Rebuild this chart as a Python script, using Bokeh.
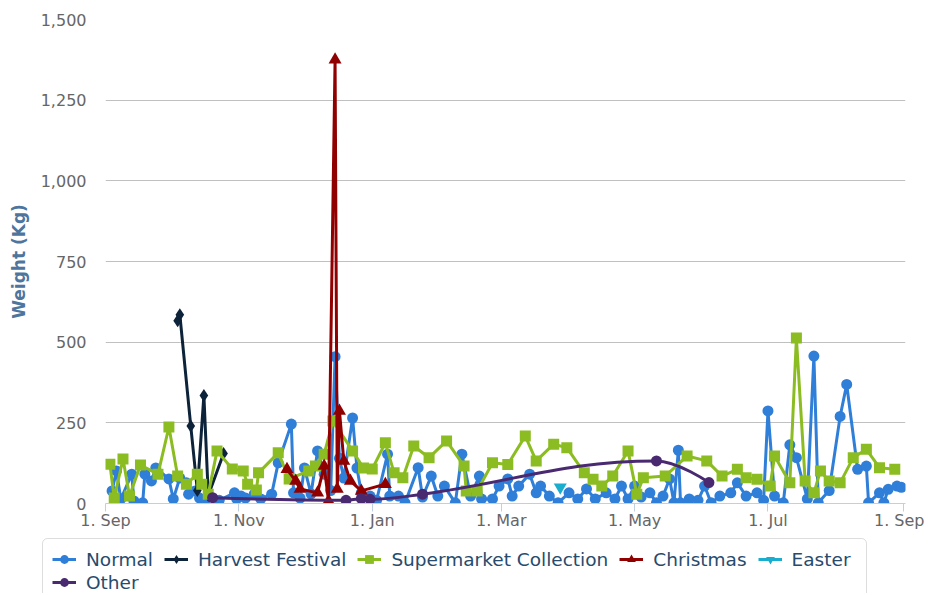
import pandas as pd
from bokeh.plotting import figure
from bokeh.layouts import column
from bokeh.models import Range1d, FixedTicker, NumeralTickFormatter, Legend, LegendItem, BoxAnnotation
from bokeh.embed import file_html
from bokeh.resources import INLINE

FONT = "DejaVu Sans"

# ---------------- data ----------------
normal_dates = ["2014-09-04","2014-09-06","2014-09-08","2014-09-13","2014-09-14","2014-09-18","2014-09-19","2014-09-22","2014-09-24","2014-09-30",
                "2014-10-02","2014-10-05","2014-10-08","2014-10-09","2014-10-12","2014-10-14","2014-10-17","2014-10-23","2014-10-30","2014-10-31",
                "2014-11-02","2014-11-04","2014-11-08","2014-11-11","2014-11-16","2014-11-19","2014-11-25","2014-11-26","2014-11-29",
                "2014-12-01","2014-12-04","2014-12-07","2014-12-10","2014-12-13","2014-12-15","2014-12-17","2014-12-19","2014-12-23","2014-12-25","2014-12-27","2014-12-31",
                "2015-01-03","2015-01-08","2015-01-09","2015-01-13","2015-01-16","2015-01-22","2015-01-24","2015-01-28","2015-01-31",
                "2015-02-03","2015-02-08","2015-02-11","2015-02-15","2015-02-19","2015-02-20","2015-02-25","2015-02-28",
                "2015-03-04","2015-03-06","2015-03-09","2015-03-14","2015-03-17","2015-03-19","2015-03-23","2015-03-27",
                "2015-04-01","2015-04-05","2015-04-09","2015-04-13","2015-04-18","2015-04-22","2015-04-25","2015-04-28",
                "2015-05-01","2015-05-04","2015-05-08","2015-05-11","2015-05-14","2015-05-17","2015-05-19","2015-05-21","2015-05-22","2015-05-26","2015-05-30",
                "2015-06-02","2015-06-05","2015-06-09","2015-06-14","2015-06-17","2015-06-21","2015-06-26","2015-06-29",
                "2015-07-01","2015-07-04","2015-07-08","2015-07-11","2015-07-14","2015-07-19","2015-07-22","2015-07-24","2015-07-29",
                "2015-08-03","2015-08-06","2015-08-11","2015-08-15","2015-08-16","2015-08-21","2015-08-23","2015-08-25","2015-08-29","2015-08-31"]
normal_values = [39,101,14,91,8,2,91,70,110,76,
                 14,79,64,29,39,17,14,10,33,14,
                 23,17,29,14,29,126,246,33,17,
                 110,30,163,91,40,455,140,79,265,110,33,23,
                 10,153,23,23,2,111,20,85,23,
                 54,2,153,23,85,14,14,54,
                 76,23,54,91,33,54,23,2,
                 33,14,45,14,33,14,54,14,
                 54,20,33,2,23,76,2,165,2,14,10,
                 54,2,23,33,64,23,33,10,
                 287,23,2,182,142,14,457,2,40,
                 270,369,106,116,2,33,2,44,54,50]

harvest_dates = ["2014-10-04","2014-10-05","2014-10-10","2014-10-13","2014-10-16","2014-10-18","2014-10-25"]
harvest_values = [566,585,240,40,335,25,155]

supermarket_dates = ["2014-09-03","2014-09-05","2014-09-09","2014-09-12","2014-09-17","2014-09-25","2014-09-30",
                     "2014-10-04","2014-10-08","2014-10-13","2014-10-15","2014-10-18","2014-10-22","2014-10-29",
                     "2014-11-03","2014-11-05","2014-11-09","2014-11-10","2014-11-19","2014-11-24",
                     "2014-12-03","2014-12-06","2014-12-10","2014-12-14","2014-12-23","2014-12-28",
                     "2015-01-01","2015-01-07","2015-01-11","2015-01-15","2015-01-20","2015-01-27",
                     "2015-02-04","2015-02-12","2015-02-13","2015-02-18","2015-02-25",
                     "2015-03-04","2015-03-12","2015-03-17","2015-03-25","2015-03-31",
                     "2015-04-08","2015-04-12","2015-04-16","2015-04-21","2015-04-28",
                     "2015-05-02","2015-05-05","2015-05-15","2015-05-25",
                     "2015-06-03","2015-06-10","2015-06-17","2015-06-21","2015-06-26",
                     "2015-07-02","2015-07-04","2015-07-11","2015-07-14","2015-07-18","2015-07-22","2015-07-25","2015-07-29",
                     "2015-08-03","2015-08-09","2015-08-15","2015-08-21","2015-08-28"]
supermarket_values = [122,17,138,23,119,91,237,
                      85,60,91,60,29,163,107,
                      101,60,42,95,157,76,
                      101,116,153,256,163,110,
                      107,188,95,80,178,142,
                      194,116,39,39,126,
                      121,209,132,184,173,
                      95,75,54,85,163,
                      29,80,85,147,
                      132,85,106,80,75,
                      54,147,64,513,70,33,101,70,
                      64,142,168,111,106]

christmas_dates = ["2014-11-23","2014-11-27","2014-11-29","2014-12-07","2014-12-10","2014-12-12","2014-12-15",
                   "2014-12-16","2014-12-17","2014-12-19","2014-12-22","2014-12-27","2015-01-07"]
christmas_values = [106,70,45,33,116,8,1375,45,287,132,70,39,60]

easter_dates = ["2015-03-28"]
easter_values = [50]

other_dates = ["2014-10-20","2014-12-20","2014-12-27","2014-12-31","2015-01-24","2015-05-11","2015-06-04"]
other_values = [18,10,15,13,29,132,65]

tick_dates = ["2014-09-01","2014-11-01","2015-01-01","2015-03-01","2015-05-01","2015-07-01","2015-09-01"]
tick_labels = ["1. Sep","1. Nov","1. Jan","1. Mar","1. May","1. Jul","1. Sep"]
y_ticks = [0, 250, 500, 750, 1000, 1250, 1500]

series_names = ["Normal","Harvest Festival","Supermarket Collection","Christmas","Easter","Other"]
series_colors = ["#2f7ed8","#0d233a","#8bbc21","#910000","#1aadce","#492970"]
series_markers = ["circle","diamond","square","triangle","inverted_triangle","circle"]
marker_sizes = [11, 13, 11, 13, 13, 11]

# ---------------- helpers ----------------
def ms(d):
    return pd.Timestamp(d).value // 10**6

def to_ms(lst):
    return [float(ms(d)) for d in lst]

def spline(xs, ys, smoothing=1.5):
    n = len(xs)
    denom = smoothing + 1
    lc = [None] * n
    rc = [None] * n
    for i in range(1, n - 1):
        px, py = xs[i], ys[i]
        lx, ly = xs[i - 1], ys[i - 1]
        nx, ny = xs[i + 1], ys[i + 1]
        lcx = (smoothing * px + lx) / denom
        lcy = (smoothing * py + ly) / denom
        rcx = (smoothing * px + nx) / denom
        rcy = (smoothing * py + ny) / denom
        corr = ((rcy - lcy) * (rcx - px)) / (rcx - lcx) + py - rcy
        lcy += corr
        rcy += corr
        if lcy > ly and lcy > py:
            lcy = max(ly, py); rcy = 2 * py - lcy
        elif lcy < ly and lcy < py:
            lcy = min(ly, py); rcy = 2 * py - lcy
        if rcy > ny and rcy > py:
            rcy = max(ny, py); lcy = 2 * py - rcy
        elif rcy < ny and rcy < py:
            rcy = min(ny, py); lcy = 2 * py - rcy
        lc[i] = (lcx, lcy)
        rc[i] = (rcx, rcy)
    seg = dict(x0=[], y0=[], x1=[], y1=[], cx0=[], cy0=[], cx1=[], cy1=[])
    for i in range(1, n):
        c0 = rc[i - 1] or (xs[i - 1], ys[i - 1])
        c1 = lc[i] or (xs[i], ys[i])
        seg["x0"].append(xs[i - 1]); seg["y0"].append(ys[i - 1])
        seg["x1"].append(xs[i]); seg["y1"].append(ys[i])
        seg["cx0"].append(c0[0]); seg["cy0"].append(c0[1])
        seg["cx1"].append(c1[0]); seg["cy1"].append(c1[1])
    return seg

# ---------------- main figure ----------------
x_start = ms("2014-09-01")
x_end = ms("2015-09-01") + 0.9 * 86400000

p = figure(width=924, height=535, x_axis_type="datetime",
           x_range=Range1d(x_start, x_end), y_range=Range1d(0, 1500),
           output_backend="svg", toolbar_location=None,
           min_border_left=105, min_border_right=19, min_border_top=19, min_border_bottom=32)
p.outline_line_color = None
p.background_fill_color = "white"
p.border_fill_color = "white"

p.xgrid.visible = False
p.ygrid.grid_line_color = "#C0C0C0"
p.ygrid.grid_line_width = 1

tick_ms = [float(ms(d)) for d in tick_dates]
p.xaxis.ticker = FixedTicker(ticks=tick_ms)
p.xaxis.major_label_overrides = {t: lab for t, lab in zip(tick_ms, tick_labels)}
p.xaxis.axis_line_color = "#C0D0E0"
p.xaxis.major_tick_line_color = "#C0D0E0"
p.xaxis.major_tick_out = 8
p.xaxis.major_tick_in = 0
p.xaxis.minor_tick_line_color = None
p.xaxis.major_label_standoff = -1
p.xaxis.major_label_text_font = FONT
p.xaxis.major_label_text_font_size = "16px"
p.xaxis.major_label_text_color = "#666666"

p.yaxis.ticker = FixedTicker(ticks=y_ticks)
p.yaxis.formatter = NumeralTickFormatter(format="0,0")
p.yaxis.axis_line_color = None
p.yaxis.major_tick_line_color = None
p.yaxis.minor_tick_line_color = None
p.yaxis.major_label_standoff = 13
p.yaxis.major_label_text_font = FONT
p.yaxis.major_label_text_font_size = "16px"
p.yaxis.major_label_text_color = "#666666"
p.yaxis.axis_label = "Weight (Kg)"
p.yaxis.axis_label_text_font = FONT
p.yaxis.axis_label_text_font_style = "bold"
p.yaxis.axis_label_text_font_size = "17px"
p.yaxis.axis_label_text_color = "#4d759e"
p.yaxis.axis_label_standoff = 9

all_dates = [normal_dates, harvest_dates, supermarket_dates, christmas_dates, easter_dates, other_dates]
all_values = [normal_values, harvest_values, supermarket_values, christmas_values, easter_values, other_values]

for name, dates, vals, color, marker, size in zip(series_names, all_dates, all_values,
                                                   series_colors, series_markers, marker_sizes):
    xs = to_ms(dates)
    if name == "Other":
        seg = spline(xs, vals)
        p.bezier(x0=seg["x0"], y0=seg["y0"], x1=seg["x1"], y1=seg["y1"],
                 cx0=seg["cx0"], cy0=seg["cy0"], cx1=seg["cx1"], cy1=seg["cy1"],
                 line_color=color, line_width=3)
    else:
        p.line(xs, vals, line_color=color, line_width=3)
    p.scatter(xs, vals, marker=marker, size=size, fill_color=color, line_color=None)

# ---------------- legend strip (pixel-like ranges) ----------------
lg = figure(width=924, height=58, x_range=Range1d(0, 924), y_range=Range1d(0, 58),
            output_backend="svg", toolbar_location=None, min_border=0,
            x_axis_location=None, y_axis_location=None)
lg.outline_line_color = None
lg.grid.visible = False
lg.background_fill_color = "white"
lg.border_fill_color = "white"

items = []
for name, dates, vals, color, marker, size in zip(series_names, all_dates, all_values,
                                                   series_colors, series_markers, marker_sizes):
    xs = to_ms(dates)  # far outside the strip's range: only the legend swatch shows
    lr = lg.line(xs, vals, line_color=color, line_width=3)
    sr = lg.scatter(xs, vals, marker=marker, size=size, fill_color=color, line_color=None)
    items.append(LegendItem(label=name, renderers=[lr, sr]))

lg.add_layout(BoxAnnotation(left=42, right=866, top=55, bottom=-20,
                            fill_color="white", fill_alpha=1.0,
                            line_color="#909090", line_width=1, border_radius=5,
                            level="underlay"))

common = dict(orientation="horizontal", label_text_font=FONT, label_text_font_size="18.5px",
              label_text_color="#274b6d", glyph_width=24, glyph_height=22, label_height=22,
              label_standoff=10, spacing=11, padding=0, margin=0,
              border_line_color=None, background_fill_alpha=0.0)
lg.add_layout(Legend(items=items[:5], location=(52, 23), **common))
lg.add_layout(Legend(items=items[5:], location=(52, 0), **common))

layout = column(column(p), column(lg), spacing=0)
open("out.html", "w").write(file_html(layout, INLINE))
